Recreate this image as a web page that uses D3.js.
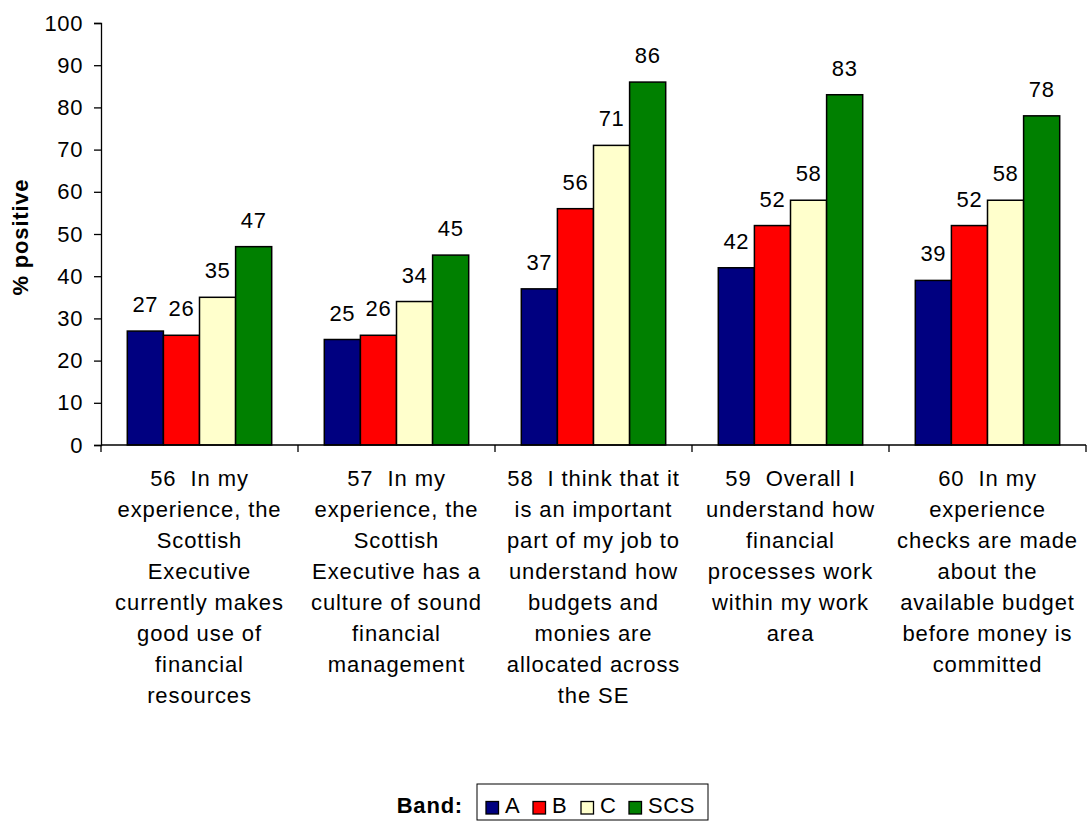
<!DOCTYPE html>
<html>
<head>
<meta charset="utf-8">
<script src="https://cdn.jsdelivr.net/npm/d3@7/dist/d3.min.js"></script>
<style>
  html, body { margin: 0; padding: 0; background: #fff; }
  svg text { font-family: Arial, "Liberation Sans", sans-serif; fill: #000; white-space: pre; }
</style>
</head>
<body>
<svg id="chart" width="1088" height="823"></svg>
<script>
// Survey questions (category axis), wrapped as in the printed report
const questions = ["Q56", "Q57", "Q58", "Q59", "Q60"];
const questionLines = [
  ["56  In my", "experience, the", "Scottish", "Executive", "currently makes", "good use of", "financial", "resources"],
  ["57  In my", "experience, the", "Scottish", "Executive has a", "culture of sound", "financial", "management"],
  ["58  I think that it", "is an important", "part of my job to", "understand how", "budgets and", "monies are", "allocated across", "the SE"],
  ["59  Overall I", "understand how", "financial", "processes work", "within my work", "area"],
  ["60  In my", "experience", "checks are made", "about the", "available budget", "before money is", "committed"]
];

// Bands and their % positive per question
const bands = ["A", "B", "C", "SCS"];
const bandA   = [27, 25, 37, 42, 39];
const bandB   = [26, 26, 56, 52, 52];
const bandC   = [35, 34, 71, 58, 58];
const bandSCS = [47, 45, 86, 83, 78];
const bandColors = ["#000080", "#FF0000", "#FFFFCC", "#008000"];

const yTicks = [0, 10, 20, 30, 40, 50, 60, 70, 80, 90, 100];

const FONT = 22;
const series = [bandA, bandB, bandC, bandSCS];
const rows = questions.map((q, i) => ({
  q, values: bands.map((b, j) => ({ band: b, value: series[j][i] }))
}));

const svg = d3.select("#chart");
const margin = { left: 101, right: 1086, top: 23, bottom: 445 };

const x0 = d3.scaleBand().domain(questions).range([margin.left, margin.right]).paddingInner(0).paddingOuter(0);
const groupW = x0.bandwidth() * 0.733;
const x1 = d3.scaleBand().domain(bands).range([0, groupW]).padding(0);
const y = d3.scaleLinear().domain([0, 100]).range([margin.bottom, margin.top]);
const color = d3.scaleOrdinal().domain(bands).range(bandColors);

// Y axis
const yAxis = svg.append("g")
  .attr("transform", `translate(${margin.left},0)`)
  .call(d3.axisLeft(y).tickValues(yTicks).tickSize(7).tickPadding(11).tickFormat(d3.format("d")));
yAxis.select(".domain").attr("stroke", "#000").attr("stroke-width", 1.3);
yAxis.selectAll(".tick line").attr("stroke", "#000").attr("stroke-width", 1.3);
yAxis.selectAll(".tick text")
  .attr("font-size", FONT)
  .attr("letter-spacing", 0.6)
  .attr("font-family", "Arial, 'Liberation Sans', sans-serif")
  .attr("fill", "#000");

// Y axis title
svg.append("text")
  .attr("transform", `translate(28,237) rotate(-90)`)
  .attr("text-anchor", "middle")
  .attr("font-size", FONT)
  .attr("font-weight", "bold")
  .attr("letter-spacing", 0.8)
  .text("% positive");

// Bars
const groups = svg.append("g").selectAll("g")
  .data(rows).join("g")
  .attr("transform", d => `translate(${x0(d.q) + (x0.bandwidth() - groupW) / 2},0)`);

groups.selectAll("rect")
  .data(d => d.values).join("rect")
  .attr("x", d => x1(d.band))
  .attr("y", d => y(d.value))
  .attr("width", x1.bandwidth())
  .attr("height", d => y(0) - y(d.value))
  .attr("fill", d => color(d.band))
  .attr("stroke", "#000")
  .attr("stroke-width", 1.5);

// Value labels
groups.selectAll("text.val")
  .data(d => d.values).join("text")
  .attr("class", "val")
  .attr("x", d => x1(d.band) + x1.bandwidth() / 2)
  .attr("y", d => y(d.value) - 19)
  .attr("text-anchor", "middle")
  .attr("font-size", FONT)
  .attr("letter-spacing", 0.6)
  .text(d => d.value);

// X axis (category boundaries ticked)
const xAxisG = svg.append("g");
xAxisG.append("line")
  .attr("x1", margin.left).attr("x2", margin.right)
  .attr("y1", y(0)).attr("y2", y(0))
  .attr("stroke", "#000").attr("stroke-width", 1.3);
const boundaries = questions.map(q => x0(q)).concat([x0(questions[questions.length - 1]) + x0.bandwidth()]);
xAxisG.selectAll("line.tk")
  .data(boundaries).join("line")
  .attr("class", "tk")
  .attr("x1", d => d).attr("x2", d => d)
  .attr("y1", y(0)).attr("y2", y(0) + 7)
  .attr("stroke", "#000").attr("stroke-width", 1.3);

// Category labels
const catG = svg.append("g").selectAll("text")
  .data(rows).join("text")
  .attr("text-anchor", "middle")
  .attr("font-size", FONT)
  .attr("letter-spacing", 0.9)
  .attr("y", 486);
catG.each(function (d, i) {
  const t = d3.select(this);
  const cx = x0(d.q) + x0.bandwidth() / 2;
  questionLines[i].forEach((line, k) => {
    t.append("tspan").attr("x", cx).attr("y", 486 + k * 31).text(line);
  });
});

// Legend
const legend = svg.append("g");
legend.append("text")
  .attr("x", 463).attr("y", 813)
  .attr("text-anchor", "end")
  .attr("font-size", FONT)
  .attr("font-weight", "bold")
  .attr("letter-spacing", 0.8)
  .text("Band:");
legend.append("rect")
  .attr("x", 477).attr("y", 784).attr("width", 231).attr("height", 36)
  .attr("fill", "#fff").attr("stroke", "#000").attr("stroke-width", 1);
const legendX = [486, 533, 581, 629];
const items = legend.selectAll("g.item")
  .data(bands).join("g")
  .attr("class", "item")
  .attr("transform", (d, i) => `translate(${legendX[i]},0)`);
items.append("rect")
  .attr("x", 0).attr("y", 801.5).attr("width", 12.5).attr("height", 12.5)
  .attr("fill", d => color(d)).attr("stroke", "#000").attr("stroke-width", 1.3);
items.append("text")
  .attr("x", 19).attr("y", 813)
  .attr("font-size", FONT)
  .attr("letter-spacing", 0.6)
  .text(d => d);
</script>
</body>
</html>
